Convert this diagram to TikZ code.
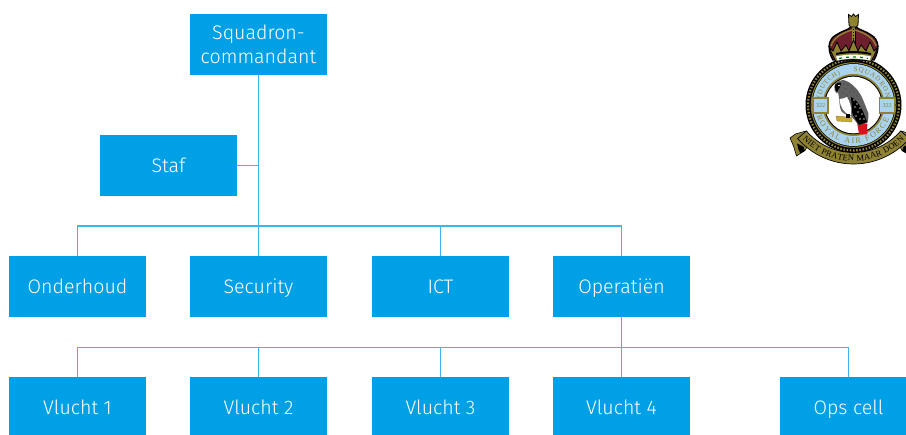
\documentclass[tikz,border=0pt]{standalone}
\usepackage{fontspec}
\setmainfont{Fira Sans Light}
\newfontfamily\crestfont{Liberation Serif}
\usetikzlibrary{decorations.text}
\definecolor{boxblue}{HTML}{00A0E6}
\definecolor{linkblue}{HTML}{3DB6EF}
\definecolor{ringblue}{HTML}{A9D3EE}
\definecolor{crestgold}{HTML}{8F8233}
\definecolor{crestbright}{HTML}{C9A83A}
\definecolor{crownred}{HTML}{6E1F2E}
\definecolor{tailred}{HTML}{D5141C}
\tikzset{
  unit/.style={fill=boxblue,text=white,minimum width=137pt,minimum height=61pt,inner sep=0pt,align=center,font=\fontsize{19.6}{24}\selectfont,anchor=center},
  oneline/.style={unit,text height=18pt,text depth=4pt},
  link/.style={draw=linkblue,line width=1.8pt},
  panel/.style={draw=crestgold,line width=1.2pt,fill=ringblue,text=crestgold,minimum width=15pt,minimum height=15pt,inner sep=0pt,font=\fontsize{6}{6}\crestfont},
  curved text/.style={decorate,decoration={text along path,text align={fit to path},text={#1}}}
}
\begin{document}
\begin{tikzpicture}[x=1pt,y=-1pt]
\useasboundingbox (0,0) rectangle (906,435);
\clip (0,0) rectangle (906,435);
\fill[white] (0,0) rectangle (906,435);
% units
\node[unit] (sq) at (258.5,44.5) {Squadron-\\commandant};
\node[oneline] (staf) at (168.5,165.5) {Staf};
\node[oneline] (ond) at (77.5,286.5) {Onderhoud};
\node[oneline] (sec) at (258.5,286.5) {Security};
\node[oneline] (ict) at (440.5,286.5) {ICT};
\node[oneline] (ops) at (621.5,286.5) {Operatiën};
\node[oneline] (v1) at (77.5,407.5) {Vlucht 1};
\node[oneline] (v2) at (258.5,407.5) {Vlucht 2};
\node[oneline] (v3) at (440.5,407.5) {Vlucht 3};
\node[oneline] (v4) at (621.5,407.5) {Vlucht 4};
\node[oneline] (oc) at (848.5,407.5) {Ops cell};
\coordinate (b1) at (258.5,226);
\coordinate (b2) at (621.5,347.5);
\draw[link] (sq.south) -- (sec.north);
\draw[link] (staf.east) -- (staf.east -| sq.south);
\draw[link] (ond.north) |- (b1) -| (ops.north);
\draw[link] (ict.north) -- (ict.north |- b1);
\draw[link] (ops.south) -- (v4.north);
\draw[link] (v1.north) |- (b2) -| (oc.north);
\draw[link] (v2.north) -- (v2.north |- b2);
\draw[link] (v3.north) -- (v3.north |- b2);
% crest: ring
\coordinate (c) at (853.5,105);
\coordinate (s) at (853.5,90);
\fill[black] (c) circle[radius=48];
\draw[crestgold,line width=2.2pt,dash pattern=on 1.6pt off 1.6pt] (c) circle[radius=45.5];
\draw[crestgold,line width=1pt] (c) circle[radius=42.3];
\fill[ringblue] (c) circle[radius=41];
\fill[crestgold] (c) circle[radius=31];
\fill[black] (c) circle[radius=29.3];
\fill[white] (c) circle[radius=28.3];
\path[curved text={|\fontsize{7}{7}\crestfont\color{crestgold}|(DUTCH)}] ([shift={(192:33.5)}]c) arc[start angle=192,end angle=247,radius=33.5];
\path[curved text={|\fontsize{7}{7}\crestfont\color{crestgold}|SQUADRON}] ([shift={(270:33.5)}]c) arc[start angle=270,end angle=348,radius=33.5];
\path[curved text={|\fontsize{8}{8}\crestfont\color{crestgold}|ROYAL AIR FORCE}] ([shift={(163:38.5)}]c) arc[start angle=163,end angle=22,radius=38.5];
\node[panel] (pl) at (820.5,105.5) {322};
\node[panel] (pr) at (887,105.5) {322};
% crest: parrot
\fill[tailred] (857.3,124) -- (867.3,124) -- (867,134.3) -- (859,134.3) -- cycle;
\fill[gray!75!black] (843.3,80) .. controls (838,80.5) and (834.5,83) .. (834.3,86.7) .. controls (834,90) and (835,92) .. (836.7,93.3) -- (838,92)
  .. controls (838.5,95) and (839,97) .. (839.3,100) .. controls (839.5,105) and (840,109) .. (841.7,111.7) .. controls (845,115) and (849,115) .. (851.7,116.7)
  .. controls (854,119) and (856,122) .. (858.3,125) -- (867.3,123.3) .. controls (868.5,119) and (868.5,116) .. (868.3,113.3) .. controls (866,107) and (864,102) .. (861.7,96.7)
  .. controls (859,92) and (857,89) .. (855,87.3) .. controls (852,84) and (848,81) .. (843.3,80) -- cycle;
\fill[white] (839.5,99) .. controls (840,106) and (843,113) .. (851,115.5) .. controls (852,108) and (850,102) .. (847,97) .. controls (845,98) and (842,99) .. (839.5,99) -- cycle;
\fill[black] (851,97) .. controls (857,100) and (862,107) .. (867,122) -- (859,125) .. controls (856,120) and (853,116) .. (852,112) .. controls (852.5,107) and (851,101) .. (851,97) -- cycle;
\fill[black] (835,85) .. controls (836,83) and (839,82) .. (841,83) -- (840,87) -- (837,92) -- (835.5,90) -- cycle;
\fill[white] (839,85.5) circle[radius=0.9];
\foreach \xa/\ya in {844/84,848/85,852/88,846/89,850/92,843/93,847/95,854/92,857/96}{\fill[black!70] (\xa,\ya) circle[radius=0.9];}
\foreach \xa/\ya in {854/100,857/104,860/108,855/107,858/112,862/114,856/116,860/119,864/119}{\fill[gray!60] (\xa,\ya) circle[radius=0.9];}
\fill[crestbright,draw=crestgold,line width=0.4pt] (836,116) -- (852,117.5) -- (852,122) -- (837,121) -- cycle;
\fill[black] (846,114.5) rectangle (850,118.5);
% crest: crown
\filldraw[crownred,draw=black,line width=1.4pt] (833,60) .. controls (827,50) and (828,39) .. (836,35) .. controls (842,31) and (848,30) .. (851,27)
  -- (856,27) .. controls (859,30) and (866,31) .. (871,35) .. controls (879,39) and (880,50) .. (874,60) -- cycle;
\draw[black,line width=4pt] (853.5,27) -- (853.5,50);
\draw[crestgold,line width=2.8pt] (853.5,27) -- (853.5,50);
\draw[black,line width=1pt,dash pattern=on 1pt off 2pt] (853.5,29) -- (853.5,50);
\draw[crestgold,line width=1.4pt] (831,46) .. controls (833,38) and (842,33) .. (852,30);
\draw[crestgold,line width=1.4pt] (876,46) .. controls (874,38) and (865,33) .. (855,30);
\filldraw[crestgold,draw=black,line width=0.8pt] (848.5,14.5) -- (851.5,16.5) -- (853.5,14) -- (855.5,16.5) -- (858.5,14.5) -- (858,25) -- (856.5,27) -- (850.5,27) -- (849,25) -- cycle;
\filldraw[crestgold,draw=black,line width=0.8pt] (836,61.5) .. controls (833,56) and (831,52) .. (829,47) -- (833,51) -- (837,42) -- (841,51) -- (846,45) -- (849,51) -- (853.5,40) -- (858,51) -- (861,45) -- (866,51) -- (870,42) -- (874,51) -- (878,47) .. controls (876,52) and (874,56) .. (871,61.5) .. controls (860,59) and (847,59) .. (836,61.5) -- cycle;
\fill[black] (836,53) .. controls (847,50.5) and (860,50.5) .. (871,53) -- (871,55) .. controls (860,52.5) and (847,52.5) .. (836,55) -- cycle;
\fill[white] (837.5,60.5) .. controls (847,58) and (860,58) .. (869.5,60.5) -- (871,56.5) .. controls (860,54) and (847,54) .. (836,56.5) -- cycle;
\draw[green!50!black,line width=1.2pt,dash pattern=on 3pt off 4pt] (839,58.5) .. controls (847,56.5) and (860,56.5) .. (868,58.5);
% crest: scroll
\begin{scope}[shift={(853.5,0)}]
\foreach \sgn in {1,-1}{
  \begin{scope}[xscale=\sgn]
  \filldraw[crestgold,draw=black,line width=0.6pt] (-47.5,131) -- (-58,134) -- (-63.5,138) -- (-60,146) -- (-57,156) -- (-48,150) -- (-44,140) -- cycle;
  \filldraw[black] (-56,144) -- (-50,147) -- (-49,151) -- (-53,153) -- (-55,149) -- cycle;
  \end{scope}
}
\end{scope}
\filldraw[crestgold,draw=black,line width=0.7pt] ([shift={(139:74)}]s) arc[start angle=139,end angle=41,radius=74] -- ([shift={(41:62.5)}]s) arc[start angle=41,end angle=139,radius=62.5] -- cycle;
\path[curved text={|\fontsize{8.5}{8.5}\crestfont\color{black}|NIET PRATEN MAAR DOEN}] ([shift={(136:71)}]s) arc[start angle=136,end angle=44,radius=71];
\end{tikzpicture}
\end{document}
